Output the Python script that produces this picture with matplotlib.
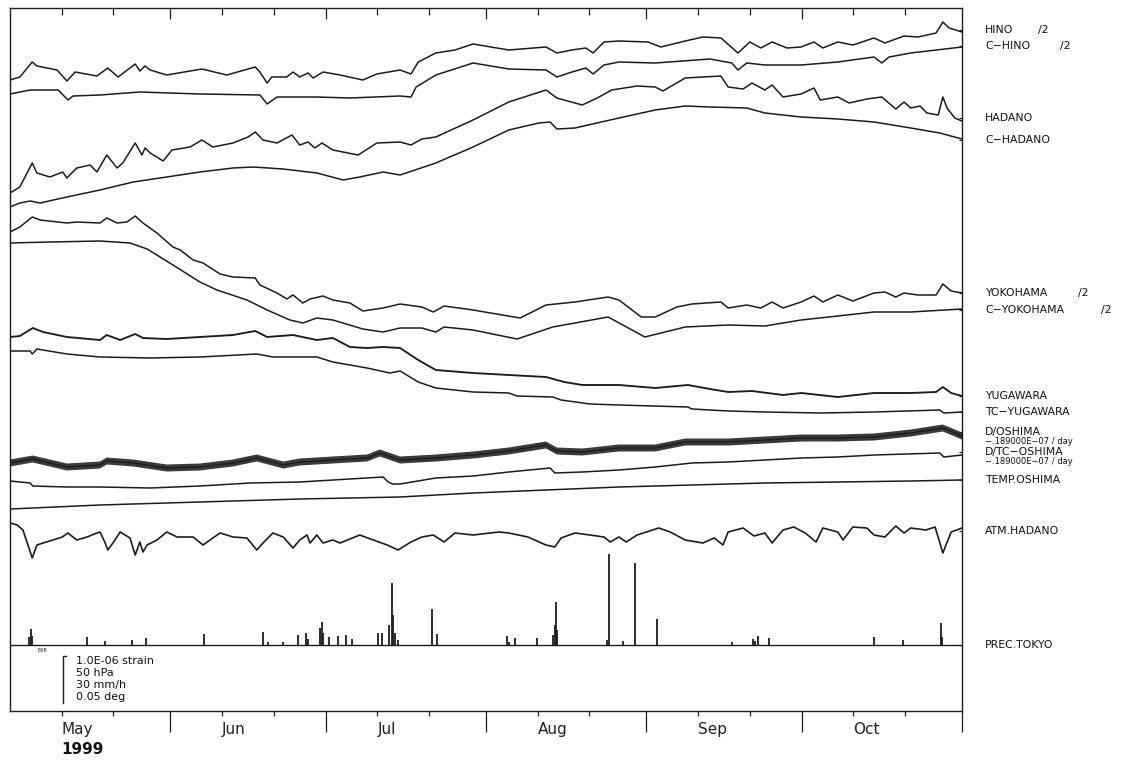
import numpy as np
import matplotlib
matplotlib.use("Agg")
import matplotlib.pyplot as plt
from matplotlib.transforms import blended_transform_factory

plt.rcParams['font.family'] = ['DejaVu Sans']

# ---------------- data (x: days since 1999-05-01, y: deviation in plot units, up positive)
HINO = [(0,0),(1.9,3),(4.3,18),(5.2,14),(9.1,10),(11.0,-1),(12.6,8),(16.8,4),(18.9,12),(20.9,3),
        (24.2,16),(25.1,9),(26.1,14),(27.1,10),(30.3,5),(37.1,11),(41.9,5),(47.4,13),(48.3,8),(49.7,-3),
        (50.6,3),(53.5,3),(54.7,8),(56.0,3),(57.6,7),(58.6,2),(60.5,8),(63.8,5),(68.2,0),(70.9,6),
        (75.4,10),(77.5,6),(78.9,18),(82.3,27),(86.0,30),(89.5,36),(96.4,30),(103.6,33),(105.7,27),
        (108.6,30),(111.3,32),(112.7,27),(114.8,38),(117.7,39),(123.3,38),(125.8,33),(130.5,39),
        (133.9,43),(137.4,42),(140.7,27),(143.0,38),(145.1,32),(147.3,38),(150.2,32),(152.9,33),
        (155.4,38),(157.1,32),(160.0,38),(162.9,35),(167.0,42),(169.1,37),(172.8,44),(175.5,43),
        (179.0,47),(180.3,58),(181.5,52),(184.0,48)]
C_HINO = [(0,1),(3.9,5),(9.3,5),(11.2,-5),(12.2,-1),(17.4,0),(25.1,3),(36.7,1),(48.3,0),(49.7,-9),
          (51.6,-2),(59.3,-2),(65.7,-3),(75.4,-1),(77.5,-2),(78.5,8),(82.3,20),(89.5,32),(96.4,26),
          (103.6,25),(105.7,18),(108.6,23),(111.3,27),(112.7,21),(114.8,30),(117.7,33),(124.7,32),
          (135.3,36),(139.5,32),(140.7,25),(142.4,32),(145.9,30),(152.9,30),(160.0,33),(167.0,38),
          (168.5,32),(169.9,38),(174.1,42),(184.0,48)]
HADANO = [(0,-3),(1.9,3),(4.3,27),(5.2,17),(7.7,13),(10.2,18),(11.0,12),(12.9,22),(15.5,25),(16.8,18),
          (18.7,35),(20.7,22),(21.8,27),(24.2,47),(25.5,35),(26.1,42),(27.1,37),(29.6,29),(31.3,40),
          (34.8,43),(37.1,50),(39.2,43),(43.1,47),(46.0,53),(47.4,58),(48.9,50),(51.6,47),(54.5,55),
          (56.0,45),(57.6,48),(58.9,42),(60.3,47),(62.4,40),(67.3,35),(70.9,47),(75.4,48),(77.5,45),
          (79.6,51),(82.3,53),(89.5,70),(96.4,88),(103.6,100),(105.7,92),(110.6,85),(113.5,92),
          (116.3,100),(121.2,104),(124.7,103),(126.2,99),(130.5,112),(133.9,113),(137.4,114),(138.8,103),
          (141.7,101),(143.4,107),(145.9,100),(147.3,105),(149.4,93),(152.9,96),(155.4,102),(156.6,90),
          (160.0,93),(162.2,87),(165.6,91),(168.5,93),(171.2,81),(172.8,88),(174.1,82),(175.9,84),
          (177.2,77),(179.4,75),(180.3,93),(181.1,82),(182.6,72),(184.0,69)]
C_HADANO = [(0,-2),(1.9,2),(3.9,4),(5.8,2),(11.0,8),(17.4,15),(23.8,23),(30.3,28),(36.7,33),(43.1,37),
            (47.0,38),(52.8,36),(59.3,32),(64.4,25),(67.6,28),(72.1,33),(75.4,30),(82.3,42),(89.5,58),
            (96.4,75),(102.2,82),(104.4,83),(105.7,76),(109.2,77),(117.7,87),(124.7,95),(130.5,99),
            (135.3,98),(142.4,97),(145.9,92),(152.9,88),(160.0,86),(167.0,83),(174.1,77),(179.7,72),
            (184.0,66)]
YOKOHAMA = [(0,-2),(1.9,3),(4.3,13),(5.8,10),(11.0,7),(12.9,8),(17.4,7),(18.7,12),(20.7,7),(22.6,8),
            (24.2,14),(25.7,7),(28.4,-3),(31.5,-17),(32.9,-20),(35.4,-30),(37.3,-33),(40.6,-44),
            (43.1,-47),(47.4,-48),(48.3,-55),(51.6,-63),(53.5,-69),(54.7,-65),(56.6,-73),(58.0,-69),
            (60.5,-66),(62.4,-70),(65.7,-73),(68.2,-81),(72.1,-78),(75.4,-74),(79.6,-77),(81.8,-82),
            (83.9,-76),(89.5,-80),(98.6,-88),(103.6,-75),(109.2,-72),(115.6,-67),(117.7,-70),(122.0,-87),
            (124.7,-87),(128.9,-77),(131.8,-74),(137.4,-72),(138.8,-78),(142.4,-75),(145.1,-78),
            (147.3,-72),(149.4,-78),(152.9,-72),(155.4,-66),(157.1,-72),(160.0,-65),(162.9,-71),
            (167.0,-63),(169.1,-62),(171.2,-67),(172.8,-63),(175.5,-65),(179.0,-65),(180.3,-54),
            (181.9,-61),(184.0,-63)]
C_YOKOHAMA = [(0,2),(7.7,3),(17.4,4),(23.2,2),(26.5,-4),(31.5,-20),(36.7,-37),(40.0,-45),(45.8,-55),
              (49.7,-65),(54.1,-75),(56.6,-78),(59.3,-73),(62.4,-75),(68.2,-84),(72.1,-87),(75.4,-83),
              (79.6,-83),(82.3,-87),(83.9,-82),(89.5,-85),(98.0,-94),(104.9,-82),(115.6,-72),(122.7,-92),
              (130.5,-82),(138.8,-80),(145.9,-81),(152.9,-75),(160.0,-71),(167.0,-67),(174.1,-67),
              (184.0,-64)]
YUGAWARA = [(0,3),(1.9,4),(4.4,12),(6.4,8),(11.0,3),(17.4,0),(18.7,5),(21.3,0),(24.2,6),(25.7,2),
            (30.3,1),(36.7,3),(43.1,5),(47.4,9),(49.7,3),(54.7,5),(59.3,0),(62.4,2),(65.7,-7),(69.0,-8),
            (72.1,-7),(75.4,-8),(78.9,-20),(82.3,-30),(89.5,-33),(96.4,-35),(103.6,-37),(107.1,-42),
            (110.6,-45),(117.7,-45),(124.7,-48),(131.0,-45),(135.3,-49),(138.8,-52),(143.4,-51),
            (149.4,-55),(152.9,-53),(160.0,-57),(167.0,-53),(174.1,-53),(179.0,-52),(180.3,-47),
            (181.9,-53),(184.0,-56)]
TC_YUGAWARA = [(0,4),(3.9,4),(4.3,1),(5.2,6),(11.0,1),(17.4,-2),(27.1,-3),(36.7,-2),(47.7,1),(50.8,-2),
               (59.3,-2),(62.4,-7),(69.0,-13),(73.4,-18),(75.4,-16),(78.9,-27),(82.3,-33),(89.5,-37),
               (96.4,-38),(98.0,-41),(104.9,-42),(106.5,-45),(112.1,-49),(117.7,-50),(131.0,-52),
               (131.8,-54),(138.8,-56),(145.9,-57),(156.6,-58),(167.0,-57),(179.7,-55),(180.5,-58),
               (184.0,-57)]
D_OSHIMA = [(0,2),(4.4,6),(11.0,-2),(17.4,0),(18.7,4),(23.8,2),(30.3,-3),(36.7,-2),(43.1,2),(47.7,7),
            (52.8,0),(56.0,3),(62.4,5),(69.0,7),(71.5,12),(75.4,5),(82.3,7),(89.5,10),(96.4,14),
            (103.6,20),(105.7,14),(110.6,13),(117.7,17),(124.7,17),(130.5,23),(138.8,23),(145.9,25),
            (152.9,27),(160.0,27),(167.0,28),(174.1,32),(180.3,37),(184.0,29)]
D_OSHIMA_TIDE_HALF_RANGE = 3.5
D_TC_OSHIMA = [(0,4),(3.9,2),(4.4,-1),(11.0,-2),(17.4,-2),(27.1,-3),(36.7,-1),(46.4,2),(56.0,3),
               (65.7,6),(72.1,8),(73.1,3),(74.0,1),(75.4,1),(82.3,7),(89.5,9),(96.4,13),(104.4,17),
               (105.3,12),(110.6,13),(117.7,15),(124.7,18),(131.8,22),(138.8,23),(145.9,25),(152.9,27),
               (160.0,28),(167.0,30),(179.7,32),(180.5,28),(184.0,30)]
TEMP_OSHIMA = [(0,-4),(4.4,-3),(17.4,0),(36.7,3),(56.0,6),(75.4,8),(89.5,12),(103.6,15),(117.7,18),
               (131.8,20),(145.9,22),(160.0,23),(174.1,24),(184.0,25)]
ATM_HADANO = [(0,12),(1.4,10),(2.5,5),(4.3,-23),(5.2,-10),(6.4,-8),(8.3,-5),(10.1,-2),(11.2,2),(12.9,-5),
              (14.9,-2),(16.8,2),(17.4,3),(18.4,-8),(18.9,-15),(19.9,-8),(21.3,3),(23.2,-3),(24.2,-20),
              (25.1,-7),(25.7,-17),(26.5,-10),(28.4,-5),(30.3,3),(32.3,-2),(35.4,-2),(37.3,-10),(39.2,-3),
              (40.6,2),(43.1,-2),(45.8,-3),(47.7,-15),(48.9,-8),(50.8,2),(52.8,-2),(54.7,-13),(56.0,-5),
              (57.4,0),(58.0,-8),(59.3,0),(60.5,-8),(62.4,-5),(63.8,-8),(67.6,0),(70.2,-5),(72.9,-10),
              (75.0,-15),(77.5,-7),(79.6,-2),(81.8,0),(83.9,-7),(86.0,2),(89.5,0),(94.5,3),(96.4,2),
              (100.1,-2),(103.6,-10),(105.3,-12),(106.5,-3),(109.2,2),(112.1,0),(114.8,-2),(116.0,-7),
              (117.7,-2),(119.1,-7),(121.2,0),(125.4,7),(127.6,3),(130.5,-5),(133.9,-8),(136.1,-3),
              (137.8,-10),(138.8,3),(141.7,7),(143.8,-1),(145.9,2),(147.3,-8),(149.4,5),(151.5,8),
              (153.7,2),(155.8,-7),(157.1,7),(160.0,3),(161.0,-5),(162.9,8),(165.6,7),(167.0,0),
              (169.1,-2),(171.2,9),(172.8,2),(174.1,7),(177.0,5),(178.8,8),(180.3,-18),(181.9,3),
              (184.0,7)]
PREC_DAY = [3.6, 4.1, 4.3, 14.9, 18.4, 23.6, 26.3, 37.5, 48.9, 49.9, 52.8, 55.7, 57.2, 57.6, 59.9,
            60.3, 60.5, 61.7, 63.4, 64.9, 66.1, 71.1, 71.9, 73.3, 73.8, 74.0, 74.4, 75.0, 81.6, 82.5,
            96.1, 96.4, 97.6, 101.9, 104.9, 105.3, 105.5, 105.7, 115.4, 115.8, 118.5, 120.8, 125.0,
            139.5, 143.6, 144.0, 144.6, 146.7, 167.0, 172.6, 179.9, 180.1]
PREC_MM_H = [5, 10, 6, 5.1, 2.6, 3.2, 4.5, 7.0, 8.3, 2, 2, 6.4, 7.7, 3.8, 10.9, 14.7, 7.7, 5.1, 5.7,
             6.4, 3.8, 7.7, 7.7, 12.8, 39.6, 19, 7.7, 3.2, 23, 7.0, 5.7, 2, 4.5, 4.5, 6.4, 12.8, 27.4,
             9.6, 3.2, 58.1, 2.6, 52.3, 16.6, 2, 3.8, 2.6, 5.7, 4.5, 5.1, 3.2, 14.0, 5]

SCALE_TEXT = ["1.0E-06 strain", "50 hPa", "30 mm/h", "0.05 deg"]
PREC_SCALE_MM = 30.0
MONTH_LABELS = ["May", "Jun", "Jul", "Aug", "Sep", "Oct"]
YEAR_LABEL = "1999"

# ---------------- layout
SERIES = [HINO, C_HINO, HADANO, C_HADANO, YOKOHAMA, C_YOKOHAMA, YUGAWARA, TC_YUGAWARA,
          D_OSHIMA, D_TC_OSHIMA, TEMP_OSHIMA, ATM_HADANO]
BASES = [631, 616, 521, 506, 481, 466, 371, 356, 246, 226, 206, 176]
WIDTHS = [1.1, 1.1, 1.1, 1.1, 1.1, 1.1, 1.35, 1.1, 1.0, 1.1, 1.1, 1.2]
SCALE_LEN = 47.0           # plot units of the scale bar
PREC_BASE = 66.0

LABELS = [("HINO", 681, "/2", 38.0), ("C\u2212HINO", 665, "/2", 54.0), ("HADANO", 593, None, 0),
          ("C\u2212HADANO", 571, None, 0), ("YOKOHAMA", 418, "/2", 67.0),
          ("C\u2212YOKOHAMA", 401, "/2", 83.5), ("YUGAWARA", 315, None, 0),
          ("TC\u2212YUGAWARA", 299, None, 0), ("D/OSHIMA", 279, None, 0),
          ("D/TC\u2212OSHIMA", 259, None, 0), ("TEMP.OSHIMA", 231, None, 0),
          ("ATM.HADANO", 180, None, 0), ("PREC.TOKYO", 66, None, 0)]
SMALL_LABELS = [("\u2212.189000E\u221207 / day", 269), ("\u2212.189000E\u221207 / day", 249)]

INK = "#1c1c1c"
W, H = 1121, 763
fig = plt.figure(figsize=(W / 100, H / 100), dpi=100)
fig.patch.set_facecolor("white")
ax = fig.add_axes([10 / W, (H - 711) / H, 952 / W, 703 / H])
ax.set_xlim(0, 184)
ax.set_ylim(0, 703)
for s in ax.spines.values():
    s.set_linewidth(1.0)
    s.set_color(INK)

for data, base, lw in zip(SERIES, BASES, WIDTHS):
    d = np.array([p[0] for p in data])
    v = np.array([p[1] for p in data], dtype=float)
    if data is D_OSHIMA:
        ax.fill_between(d, base + v - D_OSHIMA_TIDE_HALF_RANGE, base + v + D_OSHIMA_TIDE_HALF_RANGE,
                        facecolor="#3a3a3a", edgecolor="none", linewidth=0)
    ax.plot(d, base + v, color=INK, lw=lw, solid_joinstyle="round")

# precipitation bars
prec_h = np.array(PREC_MM_H) * SCALE_LEN / PREC_SCALE_MM
ax.vlines(PREC_DAY, PREC_BASE, PREC_BASE + prec_h, color=INK, lw=1.3)
ax.axhline(PREC_BASE, color=INK, lw=1.0)

# time axis
start = np.datetime64("1999-05-01")
months = np.arange("1999-05", "1999-12", dtype="datetime64[M]").astype("datetime64[D]")
month_days = (months - start).astype(int)
minor_days = np.concatenate([[m + 10, m + 20] for m in month_days[:-1]])
ax.set_xticks(month_days[1:])
ax.set_xticks(minor_days, minor=True)
ax.tick_params(axis="x", which="major", direction="out", length=15, width=0.9, color=INK,
               labelbottom=False)
ax.tick_params(axis="x", which="minor", direction="out", length=3.6, width=0.9, color=INK)
top = ax.secondary_xaxis("top")
top.set_xticks(month_days[1:-1])
top.set_xticks(minor_days, minor=True)
top.tick_params(which="major", direction="in", length=8, width=0.9, color=INK, labeltop=False)
top.tick_params(which="minor", direction="in", length=5, width=0.9, color=INK)
top.spines["top"].set_visible(False)

ax.set_yticks([lab[1] for lab in LABELS])
ax.yaxis.tick_right()
ax.tick_params(axis="y", direction="in", length=2.5, width=0.8, color=INK, labelright=False)

tx = blended_transform_factory(ax.transData, ax.transAxes)
for lab, m in zip(MONTH_LABELS, month_days[:-1]):
    ax.annotate(lab, xy=(m + 10, 0), xycoords=tx, xytext=(0, -13.5), textcoords="offset points",
                ha="left", va="center", fontsize=11, color="#222")
ax.annotate(YEAR_LABEL, xy=(month_days[0] + 10, 0), xycoords=tx, xytext=(0, -28),
            textcoords="offset points", ha="left", va="center", fontsize=11,
            fontweight="bold", color="#111")

# right-hand labels
ty = blended_transform_factory(ax.transAxes, ax.transData)
for name, y, suffix, off in LABELS:
    ax.annotate(name, xy=(1, y), xycoords=ty, xytext=(16.6, 0), textcoords="offset points",
                ha="left", va="center", fontsize=7.8, color="#111", annotation_clip=False)
    if suffix:
        ax.annotate(suffix, xy=(1, y), xycoords=ty, xytext=(16.6 + off, 0),
                    textcoords="offset points", ha="left", va="center", fontsize=7.8,
                    color="#111", annotation_clip=False)
for txt, y in SMALL_LABELS:
    ax.annotate(txt, xy=(1, y), xycoords=ty, xytext=(16.6, 0), textcoords="offset points",
                ha="left", va="center", fontsize=6, color="#111", annotation_clip=False)

# scale legend in the lower panel
x0 = 10.2
y0 = 8.0
ax.plot([x0, x0, x0 + 0.6], [y0, y0 + SCALE_LEN, y0 + SCALE_LEN], color=INK, lw=1.0)
for i, t in enumerate(SCALE_TEXT):
    ax.text(x0 + 2.6, y0 + SCALE_LEN - 5 - i * 12, t, fontsize=8, va="center", ha="left",
            color="#111")
ax.text(5.4, 61, "EXP.", fontsize=3.5, va="center", ha="left", color="#111")

fig.savefig("out.png", dpi=100, facecolor="white")
